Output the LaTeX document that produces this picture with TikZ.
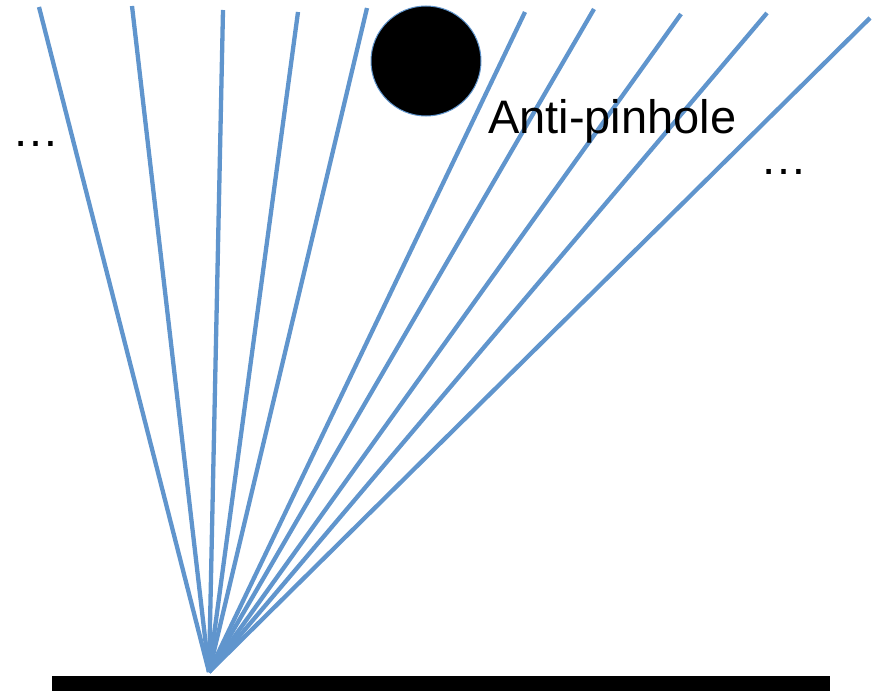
\documentclass[tikz,border=0pt]{standalone}
\usepackage{fontspec}
\setmainfont{Liberation Sans}
\definecolor{raycol}{RGB}{96,149,205}
\begin{document}
\begin{tikzpicture}[x=1pt,y=-1pt,
  ray/.style={draw=raycol,line width=4.3pt},
  label/.style={inner sep=0pt,font=\fontsize{47}{56}\selectfont},
  blocker/.style={circle,fill=black,draw=raycol,line width=1pt,minimum size=110pt,inner sep=0pt}]
  \useasboundingbox (0,0) rectangle (875,693);
  % point where all rays meet on the surface
  \coordinate (src) at (209,672);
  % far ends of the rays
  \coordinate (t1) at (39,7);
  \coordinate (t2) at (132,6);
  \coordinate (t3) at (223,10);
  \coordinate (t4) at (298,12);
  \coordinate (t5) at (367,8);
  \coordinate (t6) at (525,12);
  \coordinate (t7) at (594,9);
  \coordinate (t8) at (681,14);
  \coordinate (t9) at (767,13);
  \coordinate (t10) at (870,18);
  \foreach \i in {1,...,10} {
    \draw[ray] (src) -- (t\i);
  }
  % the occluder
  \node[blocker] (occ) at (426,61) {};
  \node[label,anchor=base west] (name) at (488,133) {Anti-pinhole};
  \node[label,anchor=base west] (dl) at (12,146) {…};
  \node[label,anchor=base west] (dr) at (760,174) {…};
  % surface
  \fill[black] (52,676) rectangle (830,691);
\end{tikzpicture}
\end{document}
